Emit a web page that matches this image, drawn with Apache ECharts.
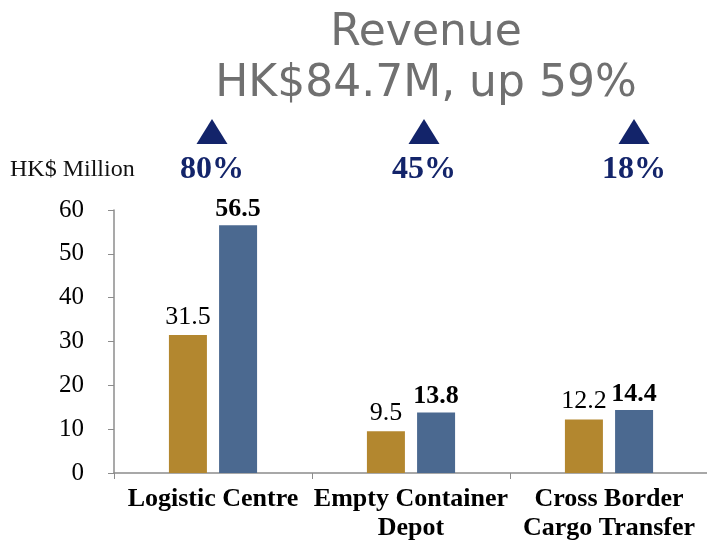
<!DOCTYPE html>
<html>
<head>
<meta charset="utf-8">
<script src="https://cdn.jsdelivr.net/npm/echarts@6/dist/echarts.min.js"></script>
<style>
  html, body { margin: 0; padding: 0; background: #fff; }
  #chart { width: 707px; height: 544px; }
</style>
</head>
<body>
<div id="chart"></div>
<script>
// Revenue by business segment, HK$ million
const categories = ['Logistic Centre', 'Empty Container\nDepot', 'Cross Border\nCargo Transfer'];
const priorRevenue = [31.5, 9.5, 12.2];
const currentRevenue = [56.5, 13.8, 14.4];
const growthLabels = ['80%', '45%', '18%'];
const growthX = [212, 424, 634];
const yTicks = [0, 10, 20, 30, 40, 50, 60];

const SERIF = '"Liberation Serif", "Times New Roman", serif';
const NAVY = '#13246A';
const GOLD = '#B3872F';
const BLUE = '#4B6990';

const chart = echarts.init(document.getElementById('chart'), null, { renderer: 'canvas' });

// growth markers: triangle + percentage above each segment
const growthGraphics = [];
growthLabels.forEach((txt, i) => {
  const cx = growthX[i];
  growthGraphics.push({
    type: 'polygon',
    shape: { points: [[cx - 15.5, 144], [cx + 15.5, 144], [cx, 119]] },
    style: { fill: NAVY }
  });
  growthGraphics.push({
    type: 'text',
    x: cx, y: 170,
    style: {
      text: txt, fill: NAVY, font: 'bold 32px ' + SERIF,
      textAlign: 'center', textVerticalAlign: 'middle'
    }
  });
});

chart.setOption({
  animation: false,
  backgroundColor: '#fff',
  title: {
    text: 'Revenue\nHK$84.7M, up 59%',
    left: 421,
    top: 3,
    textAlign: 'center',
    textStyle: {
      fontFamily: '"DejaVu Sans", sans-serif',
      fontWeight: 'normal',
      fontSize: 44,
      lineHeight: 51,
      color: '#707070'
    }
  },
  graphic: [
    {
      type: 'text', x: 10, y: 170,
      style: { text: 'HK$ Million', fill: '#111', font: '24px ' + SERIF, textVerticalAlign: 'middle' }
    },
    ...growthGraphics
  ],
  grid: { left: 114, right: -1, top: 210, bottom: 71, containLabel: false, outerBoundsMode: 'none' },
  xAxis: {
    type: 'category',
    data: categories,
    axisLine: { lineStyle: { color: '#8C8C8C', width: 1.5 } },
    axisTick: { show: true, length: 6, lineStyle: { color: '#8C8C8C' } },
    axisLabel: {
      color: '#000',
      fontFamily: SERIF,
      fontWeight: 'bold',
      fontSize: 26,
      lineHeight: 29,
      margin: 12,
      interval: 0
    }
  },
  yAxis: {
    type: 'value',
    min: 0, max: 60, interval: 10,
    axisLine: { show: true, lineStyle: { color: '#8C8C8C', width: 1.5 } },
    axisTick: { show: true, length: 6, inside: false, lineStyle: { color: '#8C8C8C' } },
    splitLine: { show: false },
    axisLabel: {
      color: '#000', fontFamily: SERIF, fontSize: 25, margin: 30,
      formatter: v => (yTicks.includes(v) ? String(v) : '')
    }
  },
  series: [
    {
      name: 'Prior period',
      type: 'bar',
      data: priorRevenue,
      barWidth: 38,
      barGap: '32%',
      itemStyle: { color: GOLD },
      label: {
        show: true, position: 'top', distance: 5,
        color: '#000', fontFamily: SERIF, fontSize: 26,
        formatter: p => p.value.toFixed(1)
      }
    },
    {
      name: 'Current period',
      type: 'bar',
      data: currentRevenue,
      barWidth: 38,
      itemStyle: { color: BLUE },
      label: {
        show: true, position: 'top', distance: 3,
        color: '#000', fontFamily: SERIF, fontSize: 26, fontWeight: 'bold',
        formatter: p => p.value.toFixed(1)
      }
    }
  ]
});
</script>
</body>
</html>
